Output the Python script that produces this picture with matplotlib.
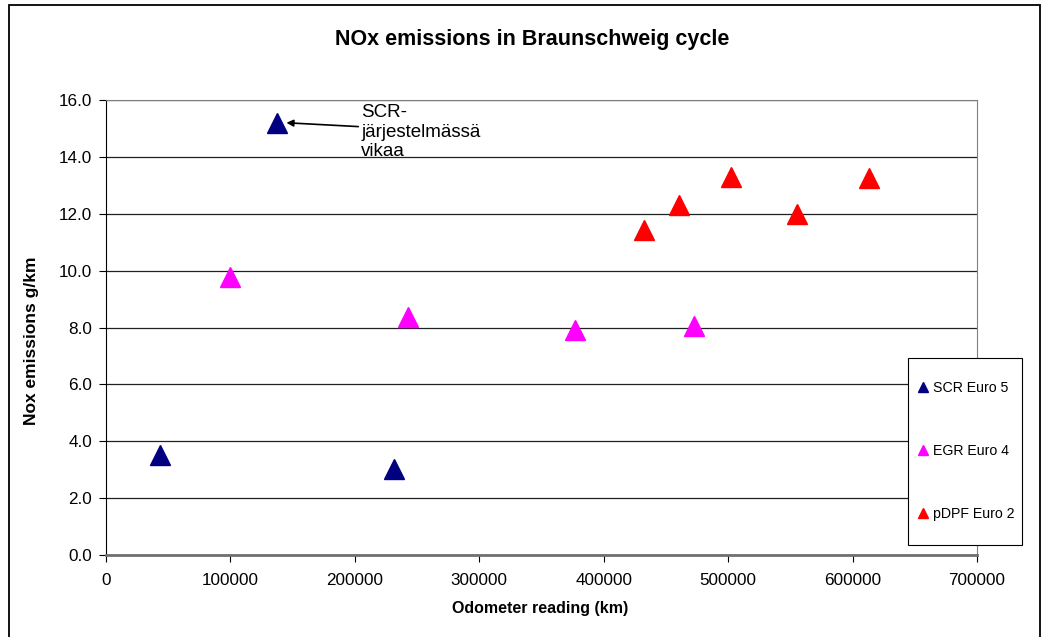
import matplotlib
matplotlib.use("Agg")
import matplotlib.pyplot as plt
from matplotlib.patches import Rectangle

plt.rcParams['font.family'] = ['Liberation Sans', 'DejaVu Sans']

# data
scr_km = [43400, 137500, 231500]
scr_nox = [3.52, 15.2, 3.02]
egr_km = [99700, 242800, 377000, 472700]
egr_nox = [9.77, 8.37, 7.91, 8.05]
dpf_km = [432500, 460600, 502400, 555500, 613300]
dpf_nox = [11.43, 12.31, 13.29, 11.99, 13.26]

series = [
    ("SCR Euro 5", scr_km, scr_nox, "#000080"),
    ("EGR Euro 4", egr_km, egr_nox, "#FF00FF"),
    ("pDPF Euro 2", dpf_km, dpf_nox, "#FF0000"),
]
x_ticks = [0, 100000, 200000, 300000, 400000, 500000, 600000, 700000]
y_ticks = [0, 2, 4, 6, 8, 10, 12, 14, 16]

W, H = 1051, 637
fig = plt.figure(figsize=(W / 100, H / 100), dpi=100)

def fx(px):
    return px / W

def fy(py):
    # pixel row from top -> figure fraction
    return 1 - py / H

# outer chart border (bottom edge falls outside the image)
fig.patches.append(Rectangle((fx(9), fy(645)), fx(1031), 640 / H, transform=fig.transFigure,
                             fill=False, edgecolor="black", linewidth=1.3, clip_on=False))

ax = fig.add_axes([fx(106), fy(555), fx(871), 455 / H])
for name, xs, ys, c in series:
    ax.plot(xs, ys, linestyle="none", marker="^", markersize=14, color=c, label=name)

ax.set_xlim(0, 700000)
ax.set_ylim(0, 16)
ax.set_xticks(x_ticks)
ax.set_xticklabels([str(v) for v in x_ticks], fontsize=12.3)
ax.set_yticks(y_ticks)
ax.set_yticklabels(["%.1f" % v for v in y_ticks], fontsize=12.3)
ax.yaxis.grid(True, color="#202020", linewidth=0.9)
ax.set_axisbelow(True)
for s in ["top", "right"]:
    ax.spines[s].set_color("#808080")
ax.spines["left"].set_color("black")
ax.spines["bottom"].set_color("#707070")
ax.spines["bottom"].set_linewidth(2)
ax.tick_params(axis="y", direction="out", length=5, color="black", pad=5)
ax.tick_params(axis="x", direction="out", length=5, color="black", pad=8)

fig.text(fx(532), fy(39), "NOx emissions in Braunschweig cycle", fontsize=15.5,
         fontweight="bold", ha="center", va="center")
fig.text(fx(32), fy(341), "Nox emissions g/km", fontsize=12.5, fontweight="bold",
         rotation=90, ha="center", va="center")
fig.text(fx(540), fy(608), "Odometer reading (km)", fontsize=11.5, fontweight="bold",
         ha="center", va="center")

ax.annotate("SCR-\njärjestelmässä\nvikaa", xy=(145000, 15.2), xytext=(205000, 15.85),
            fontsize=13.5, va="top", ha="left", linespacing=1.2,
            arrowprops=dict(arrowstyle="-|>", color="black", lw=1.2, shrinkA=0, shrinkB=0,
                            mutation_scale=10, relpos=(0, 0.6)),
            annotation_clip=False)

# legend box drawn separately so the padding can match
fig.patches.append(Rectangle((fx(908), fy(545)), fx(114), 187 / H, transform=fig.transFigure,
                             facecolor="white", edgecolor="black", linewidth=0.8, zorder=5))
leg = fig.legend(loc="upper left", bbox_to_anchor=(fx(917), fy(381)), frameon=False,
                 fontsize=10.2, markerscale=0.47, handlelength=0.8, handletextpad=0.32,
                 labelspacing=3.45, borderpad=0, borderaxespad=0)
leg.set_zorder(6)

fig.savefig("out.png", dpi=100)
